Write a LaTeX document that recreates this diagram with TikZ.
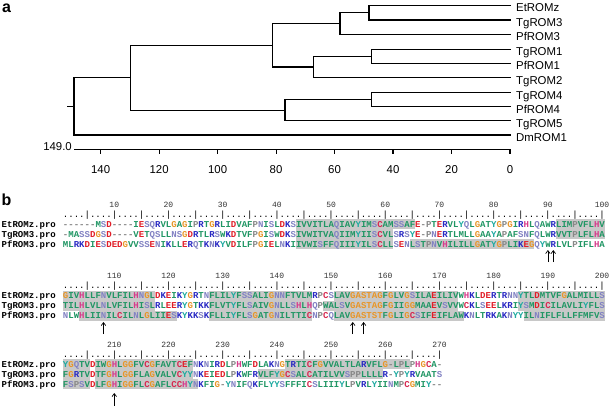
\documentclass[tikz,border=0pt]{standalone}
\usepackage{fontspec}
\setmainfont{Liberation Sans}
\newfontfamily\seqfont{Liberation Mono}
\usetikzlibrary{arrows.meta}
\definecolor{cgreen}{RGB}{32,150,100}
\definecolor{corange}{RGB}{232,150,40}
\definecolor{cred}{RGB}{225,30,40}
\definecolor{ccys}{RGB}{215,40,80}
\definecolor{cpink}{RGB}{215,60,140}
\definecolor{cblue}{RGB}{40,40,195}
\definecolor{clav}{RGB}{130,130,195}
\definecolor{cteal}{RGB}{30,170,160}
\definecolor{cgrey}{RGB}{135,135,135}
\definecolor{seqbg}{RGB}{200,200,200}
\colorlet{resA}{cgreen}\colorlet{resV}{cgreen}\colorlet{resL}{cgreen}\colorlet{resI}{cgreen}
\colorlet{resM}{cgreen}\colorlet{resF}{cgreen}\colorlet{resW}{cgreen}\colorlet{resT}{cgreen}
\colorlet{resG}{corange}\colorlet{resg}{corange}\colorlet{resa}{corange}\colorlet{ress}{corange}\colorlet{rest}{corange}
\colorlet{resD}{cred}\colorlet{resE}{cred}\colorlet{resC}{ccys}\colorlet{resH}{cpink}
\colorlet{resK}{cblue}\colorlet{resR}{cblue}
\colorlet{resN}{clav}\colorlet{resQ}{clav}\colorlet{resS}{clav}
\colorlet{resY}{cteal}\colorlet{resP}{cgrey}\colorlet{resgap}{cgrey}
\makeatletter
\def\seqline#1{\seq@loop#1\@nil}
\def\seq@loop#1{\ifx#1\@nil\else\seq@char{#1}\expandafter\seq@loop\fi}
\def\seq@char#1{\ifx#1-\textcolor{resgap}{-}\else\textcolor{res#1}{\uppercase{#1}}\fi}
\makeatother
\newcommand\gbox[3]{\fill[seqbg] ({62.79+(#2-1)*5.42},{#1-5}) rectangle ({68.21+(#3-1)*5.42},{#1+5});}
\tikzset{
 tree/.style={line width=1.1pt, line cap=rect},
 leaflab/.style={anchor=base west, inner sep=0pt, font=\fontsize{11.4}{12}\selectfont},
 ticklab/.style={anchor=base, inner sep=0pt, font=\fontsize{11.4}{12}\selectfont},
 panellab/.style={anchor=base west, inner sep=0pt, font=\fontsize{16}{16}\selectfont\bfseries},
 namelab/.style={anchor=base west, inner sep=0pt, font=\seqfont\bfseries\fontsize{9.03}{10}\selectfont},
 seqlab/.style={anchor=base west, inner sep=0pt, font=\seqfont\bfseries\fontsize{9.03}{10}\selectfont},
 rulerlab/.style={anchor=base west, inner sep=0pt, font=\seqfont\fontsize{9.03}{10}\selectfont},
 numlab/.style={anchor=base, inner sep=0pt, font=\seqfont\fontsize{8}{9}\selectfont, text=black!80},
 motif/.style={-{Straight Barb[length=3pt,width=4.5pt]}, line width=0.7pt},
}
\begin{document}
\begin{tikzpicture}[x=1pt,y=-1pt]
\fill[white] (0,0) rectangle (609,406);
\useasboundingbox (0,0) rectangle (609,406);
% ---------- panel a ----------
\node[panellab, text height=8.5pt, text depth=0pt] (pa) at (1.8,12.4) {a};
\coordinate (eEt) at (510,5.3);
\coordinate (eTg3) at (510,20);
\coordinate (ePf3) at (510,34.3);
\coordinate (eTg1) at (510,49.3);
\coordinate (ePf1) at (510,63.3);
\coordinate (eTg2) at (510,77.7);
\coordinate (eTg4) at (510,92.7);
\coordinate (ePf4) at (510,106.7);
\coordinate (eTg5) at (510,120.7);
\coordinate (eDm) at (510,135);
\coordinate (n1) at (369,12.65);
\coordinate (n2) at (340,23.5);
\coordinate (n3) at (371.7,56.3);
\coordinate (n4) at (313.3,67);
\coordinate (n5) at (272.7,45.25);
\coordinate (n6) at (371.7,99.7);
\coordinate (n7) at (285,110.2);
\coordinate (n8) at (130.7,77.7);
\coordinate (rt) at (74,106.4);
\coordinate (stub) at (68,106.4);
\draw[tree] (eEt) -| (n1) |- (eTg3);
\draw[tree] (n1) -| (n2) |- (ePf3);
\draw[tree] (eTg1) -| (n3) |- (ePf1);
\draw[tree] (n3) -| (n4) |- (eTg2);
\draw[tree] (n2) -| (n5) |- (n4);
\draw[tree] (eTg4) -| (n6) |- (ePf4);
\draw[tree] (n6) -| (n7) |- (eTg5);
\draw[tree] (n5) -| (n8) |- (n7);
\draw[tree] (n8) -| (rt) |- (eDm);
\draw[tree] (rt) -- (stub);
\node[leaflab] (lEt) at (516,11.8) {EtROMz};
\node[leaflab] (lTg3) at (516,26.5) {TgROM3};
\node[leaflab] (lPf3) at (516,40.8) {PfROM3};
\node[leaflab] (lTg1) at (516,55.8) {TgROM1};
\node[leaflab] (lPf1) at (516,69.8) {PfROM1};
\node[leaflab] (lTg2) at (516,84.2) {TgROM2};
\node[leaflab] (lTg4) at (516,99.2) {TgROM4};
\node[leaflab] (lPf4) at (516,113.2) {PfROM4};
\node[leaflab] (lTg5) at (516,127.2) {TgROM5};
\node[leaflab] (lDm) at (516,141.5) {DmROM1};
% axis
\coordinate (ax0) at (74,149.3);
\coordinate (ax1) at (510,149.3);
\draw[line width=1.1pt] (ax0) -- (ax1);
\node[ticklab, anchor=base east] (ax149) at (72,150.5) {149.0};
\foreach \v in {0,20,...,140} {
  \coordinate (t\v) at ({510-2.924*\v},149.3);
  \draw[line width=1.1pt] (t\v) -- ++(0,5);
  \node[ticklab] (tl\v) at ({510-2.924*\v},173.5) {\v};
}
% ---------- panel b ----------
\node[panellab] (pb) at (1.5,205) {b};
% shading
\gbox{224.3}{44}{65}\gbox{224.3}{92}{100}
\gbox{234.3}{44}{61}\gbox{234.3}{92}{100}
\gbox{244.3}{44}{61}\gbox{244.3}{65}{87}
\gbox{295.6}{1}{17}\gbox{295.6}{28}{46}\gbox{295.6}{51}{73}\gbox{295.6}{85}{100}
\gbox{305.6}{1}{17}\gbox{305.6}{28}{46}\gbox{305.6}{49}{73}\gbox{305.6}{85}{100}
\gbox{315.6}{4}{21}\gbox{315.6}{28}{46}\gbox{315.6}{51}{74}\gbox{315.6}{86}{100}
\gbox{364.3}{1}{5}\gbox{364.3}{7}{24}\gbox{364.3}{42}{64}
\gbox{374.3}{1}{5}\gbox{374.3}{7}{24}\gbox{374.3}{37}{59}
\gbox{384.3}{1}{5}\gbox{384.3}{7}{25}
% block 1
\foreach \p in {10,20,...,100} {
  \node[numlab] (nA\p) at ({65.5+(\p-1)*5.42},207.3) {\p};
}
\node[rulerlab] (rA) at (62.79,217.5) {....|....|....|....|....|....|....|....|....|....|....|....|....|....|....|....|....|....|....|....|};
\node[namelab] (nmE1) at (1.5,227.3) {EtROMz.pro};
\node[namelab] (nmT1) at (1.5,237.3) {TgROM3.pro};
\node[namelab] (nmP1) at (1.5,247.3) {PfROM3.pro};
\node[seqlab] (sE1) at (62.79,227.3) {\seqline{------MSD----IESQRVLGAGIPRTGRLIDVAFPNISLDKSIVVITLAQIAVYIMSCAMSSAFE-PTERVLYQLGATYGPGIRHLQAWRLIMPVFLHV}};
\node[seqlab] (sT1) at (62.79,237.3) {\seqline{-MASSDGSD----VETQSLLNSGDRTLRSWKDTVFPGISWDKSIVWITVAQIIMYIISCVLSRSYE-PNERTLMLLGAAYAPAFSNFQLWRVVTPLFLHA}};
\node[seqlab] (sP1) at (62.79,247.3) {\seqline{MLRKDIESDEDGVVSSENIKLLERQTKNKYVDILFPGIELNKIIVWISFFQIIIYILSCLLSENLSTPNVHILILLGATYGPLIKEGQYWRLVLPIFLHA}};
\coordinate (a1b) at ({65.5+89*5.42},262);
\coordinate (a1t) at ({65.5+89*5.42},250);
\coordinate (a2b) at ({65.5+90*5.42},262);
\coordinate (a2t) at ({65.5+90*5.42},250);
\draw[motif] (a1b) -- (a1t);
\draw[motif] (a2b) -- (a2t);
% block 2
\foreach \p in {10,20,...,100} {
  \pgfmathtruncatemacro\q{\p+100}
  \node[numlab] (nB\p) at ({65.5+(\p-1)*5.42},278.6) {\q};
}
\node[rulerlab] (rB) at (62.79,288.8) {....|....|....|....|....|....|....|....|....|....|....|....|....|....|....|....|....|....|....|....|};
\node[namelab] (nmE2) at (1.5,298.6) {EtROMz.pro};
\node[namelab] (nmT2) at (1.5,308.6) {TgROM3.pro};
\node[namelab] (nmP2) at (1.5,318.6) {PfROM3.pro};
\node[seqlab] (sE2) at (62.79,298.6) {\seqline{GIVHLLFNVLFILHNGLDKEIKYGRTNFLILYFSSALIGNNFTVLMRPCSLAVgastagFGLVGSILAEILIVWHKLDERTRNNYTLDMTVFGALMILLS}};
\node[seqlab] (sT2) at (62.79,308.6) {\seqline{TILHLVLNLVFILHISLRLEERYGTKKFLVTYFLSAIVGNLLSHLHQPWALSVgastagFGIIGGMAAEVSVVWCKLSEELKRIYSMDICILAVLIYFLS}};
\node[seqlab] (sP2) at (62.79,318.6) {\seqline{NLWHLIINILCILNLGLIIESKYKKSKFLLIYFLSGATGNILTTICNPCQLAVgaststFGLIGCSIFEIFLAWKNLTRKAKNYYILNIFLFLLFFMFVS}};
\coordinate (b1b) at ({65.5+7*5.42},334);
\coordinate (b1t) at ({65.5+7*5.42},322);
\coordinate (b2b) at ({65.5+53*5.42},334);
\coordinate (b2t) at ({65.5+53*5.42},322);
\coordinate (b3b) at ({65.5+55*5.42},334);
\coordinate (b3t) at ({65.5+55*5.42},322);
\draw[motif] (b1b) -- (b1t);
\draw[motif] (b2b) -- (b2t);
\draw[motif] (b3b) -- (b3t);
% block 3
\foreach \p in {10,20,...,70} {
  \pgfmathtruncatemacro\q{\p+200}
  \node[numlab] (nC\p) at ({65.5+(\p-1)*5.42},347.3) {\q};
}
\node[rulerlab] (rC) at (62.79,357.5) {....|....|....|....|....|....|....|....|....|....|....|....|....|....|};
\node[namelab] (nmE3) at (1.5,367.3) {EtROMz.pro};
\node[namelab] (nmT3) at (1.5,377.3) {TgROM3.pro};
\node[namelab] (nmP3) at (1.5,387.3) {PfROM3.pro};
\node[seqlab] (sE3) at (62.79,367.3) {\seqline{YGQTVDIWGHLGGFVCGFAVTCEFNKNIRDLPHWFDLAKNGTRTICFGVVALTLARVFLG-LPLPHGCA-}};
\node[seqlab] (sT3) at (62.79,377.3) {\seqline{FGRTVDTFGHLGGFLAGVALVCYYNKEIEDLPKWFRVLFYGCSALCATILVVSPPLLLLR-YPYRVAATS}};
\node[seqlab] (sP3) at (62.79,387.3) {\seqline{FSPSVDLFGHIGGFLCGAFLCCHYNKFIG-YNIFQKFLYYSFFFICSLIIIYLPVRLYIINMPCGMIY--}};
\coordinate (c1b) at ({65.5+9*5.42},405.5);
\coordinate (c1t) at ({65.5+9*5.42},393);
\draw[motif] (c1b) -- (c1t);
\end{tikzpicture}
\end{document}
